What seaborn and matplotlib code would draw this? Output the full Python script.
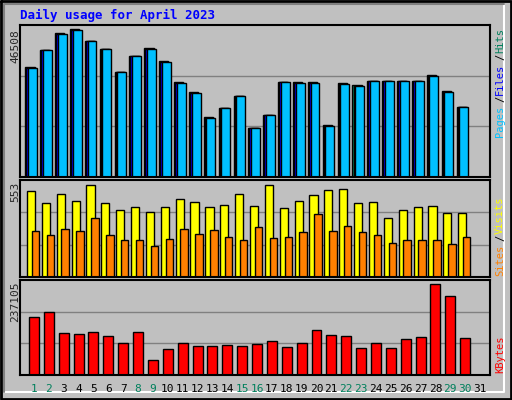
import numpy as np
import pandas as pd
import matplotlib
matplotlib.use("Agg")
import matplotlib.pyplot as plt
import seaborn as sns

days = list(range(1, 31))
pages = [34226, 39878, 44902, 46158, 42704, 40192, 32970, 37994, 40192, 36110,
         29516, 26376, 18526, 21666, 25434, 15386, 19468, 29830, 29516, 29516,
         16014, 29202, 28574, 30144, 30144, 30144, 30144, 31714, 26690, 21980]
hits = [34540, 40000, 45300, 46508, 42800, 40300, 33100, 38100, 40600, 36300,
        29700, 26700, 18700, 21800, 25500, 15500, 19600, 30000, 29700, 29700,
        16200, 29400, 28800, 30300, 30300, 30300, 30300, 32200, 26900, 22100]
files = [34300, 39900, 45000, 46300, 42750, 40200, 33000, 38000, 40300, 36150,
         29550, 26450, 18550, 21700, 25450, 15400, 19500, 29850, 29550, 29550,
         16050, 29250, 28600, 30200, 30200, 30200, 30200, 31800, 26750, 22000]
visits = [517, 445, 499, 457, 553, 445, 403, 421, 391, 421,
          469, 451, 421, 433, 499, 427, 553, 415, 457, 493,
          523, 529, 445, 451, 355, 403, 421, 427, 385, 385]
sites = [277, 253, 289, 277, 355, 253, 222, 222, 186, 228,
         289, 259, 283, 240, 222, 301, 234, 240, 271, 379,
         277, 307, 271, 253, 204, 222, 222, 222, 198, 240]
kbytes = [151960, 164985, 110280, 107675, 112885, 102465, 84230, 112885, 39080, 67730,
          83230, 75550, 75550, 78155, 75550, 80760, 88575, 72945, 83230, 117100,
          104070, 101465, 70340, 83230, 70340, 93785, 98995, 237105, 205845, 96390]
day_labels = [str(d) for d in range(1, 32)]
weekend = {1, 2, 8, 9, 15, 16, 22, 23, 29, 30}

sns.set_style("white")
plt.rcParams['font.family'] = ['DejaVu Sans Mono', 'DejaVu Sans']

W, H = 512, 400
fig = plt.figure(figsize=(W/100, H/100), dpi=100, facecolor="#C0C0C0")

bg = fig.add_axes([0, 0, 1, 1]); bg.set_xlim(0, W); bg.set_ylim(H, 0); bg.axis("off")
bg.plot([1, W-1, W-1, 1, 1], [1, 1, H-1, H-1, 1], color="black", lw=2)
bg.plot([4, W-8, W-8], [H-8, H-8, 4], color="white", lw=1.5)
bg.plot([4, 4, W-8], [H-8, 4, 4], color="#808080", lw=1.5)
bg.text(20, 15, "Daily usage for April 2023", color="#0000FF", fontsize=9,
        fontweight="bold", va="center", ha="left")

x0, x1 = 20, 490
xlim = (0.06, 31.67)

def panel(top, bot):
    ax = fig.add_axes([x0/W, 1-bot/H, (x1-x0)/W, (bot-top)/H])
    ax.set_facecolor("#C0C0C0")
    ax.set_xlim(*xlim)
    for s in ax.spines.values():
        s.set_color("black"); s.set_linewidth(1.5); s.set_zorder(5)
    ax.set_xticks([]); ax.set_yticks([])
    return ax

def bars(ax, xs, vals, color, width):
    df = pd.DataFrame({"x": xs, "v": vals})
    sns.barplot(data=df, x="x", y="v", native_scale=True, color=color, width=width,
                edgecolor="black", linewidth=1, saturation=1, ax=ax, errorbar=None)
    ax.set_xlim(*xlim); ax.set_xlabel(""); ax.set_ylabel("")
    ax.set_xticks([]); ax.set_yticks([])

d = np.array(days, dtype=float)

ax1 = panel(25, 177)
ymax1 = 46508 * 152 / 148
for f in (1/3, 2/3):
    ax1.axhline(ymax1*f, color="#808080", lw=1, zorder=0)
bars(ax1, d-0.27, hits, "#00805C", 0.62)
bars(ax1, d-0.2, files, "#0000FF", 0.62)
bars(ax1, d-0.1, pages, "#00C0FF", 0.6)
ax1.set_ylim(0, ymax1)

ax2 = panel(180, 277)
ymax2 = 553 * 97 / 92
for f in (1/3, 2/3):
    ax2.axhline(ymax2*f, color="#808080", lw=1, zorder=0)
bars(ax2, d-0.2, visits, "#FFFF00", 0.55)
bars(ax2, d+0.1, sites, "#FF8000", 0.5)
ax2.set_ylim(0, ymax2)

ax3 = panel(280, 375)
ymax3 = 237105 * 95 / 91
for f in (1/3, 2/3):
    ax3.axhline(ymax3*f, color="#808080", lw=1, zorder=0)
bars(ax3, d, kbytes, "#FF0000", 0.67)
ax3.set_ylim(0, ymax3)

for y, t in [(29, "46508"), (182, "553"), (282, "237105")]:
    bg.text(15, y, t, rotation=90, fontsize=8, ha="center", va="top")

for i, lab in enumerate(day_labels):
    px = 34 + i * (480-34)/30
    bg.text(px, 389, lab, fontsize=8, ha="center", va="center",
            color="#00805C" if (i+1) in weekend else "black")

def vlabel(parts, ybot):
    y = ybot
    for txt, col in parts:
        bg.text(500, y, txt, rotation=90, color=col, fontsize=7.5,
                ha="center", va="bottom")
        y -= len(txt) * 7.0
vlabel([("Pages", "#00C0FF"), ("/", "black"), ("Files", "#0000FF"), ("/", "black"), ("Hits", "#00805C")], 137)
vlabel([("Sites", "#FF8000"), ("/", "black"), ("Visits", "#FFFF00")], 276)
vlabel([("KBytes", "#FF0000")], 373)

fig.savefig("out.png", dpi=100, facecolor=fig.get_facecolor())
